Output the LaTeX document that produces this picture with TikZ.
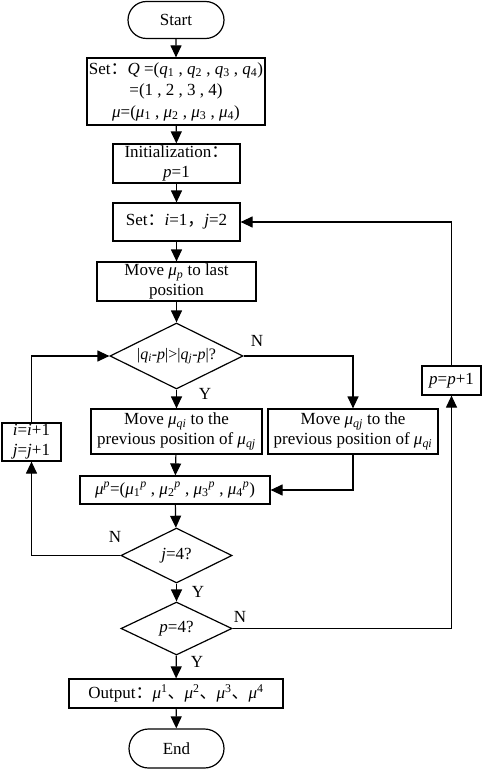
\documentclass[tikz,border=0pt]{standalone}
\usepackage{fontspec}
\setmainfont{Liberation Serif}
\newfontfamily\cjk{Noto Sans CJK SC}
\usetikzlibrary{shapes.geometric,shapes.misc,arrows.meta}
\newcommand\sbs[1]{\textsubscript{#1}}
\newcommand\sps[1]{\textsuperscript{#1}}
\newcommand\gm{\textit{μ}}
\newcommand\cc{{\cjk ：}}
\newcommand\cm{{\cjk 、}}
\begin{document}
\begin{tikzpicture}[x=1pt,y=-1pt,
  font=\fontsize{17}{20}\selectfont, line width=1.2pt,
  box/.style={draw, rectangle, inner sep=0pt, align=center},
  term/.style={draw, rounded rectangle, inner sep=0pt, minimum width=96pt, minimum height=37pt},
  dia/.style={draw, diamond, aspect=2, inner sep=0pt},
  arr/.style={-{Triangle[length=12pt,width=11pt]}},
  lbl/.style={inner sep=0pt}]
\useasboundingbox (0,0) rectangle (484,770);

\node[term] (start) at (176,20) {Start};
\node[box, minimum width=178pt, minimum height=67pt, font=\fontsize{17}{21.5}\selectfont] (setq) at (176,91.5)
  {Set\cc\textit{Q} =(\textit{q}\sbs{1} , \textit{q}\sbs{2} , \textit{q}\sbs{3} , \textit{q}\sbs{4})\\
   =(1 , 2 , 3 , 4)\\
   \gm=(\gm\sbs{1} , \gm\sbs{2} , \gm\sbs{3} , \gm\sbs{4})};
\node[box, minimum width=127pt, minimum height=39pt] (init) at (176.5,163.5)
  {Initialization\cc\\\textit{p}=1};
\node[box, minimum width=127pt, minimum height=38pt] (seti) at (176.5,222)
  {Set\cc\textit{i}=1{\cjk ，}\textit{j}=2};
\node[box, minimum width=159pt, minimum height=39pt] (movep) at (176.5,281.5)
  {Move \gm\sbs{\textit{p}} to last\\position};
\node[dia, minimum width=133pt, minimum height=66pt, font=\fontsize{16}{19}\selectfont] (d1) at (176.5,356)
  {|\textit{q}\sbs{\textit{i}}-\textit{p}|>|\textit{q}\sbs{\textit{j}}-\textit{p}|?};
\node[box, minimum width=171pt, minimum height=45pt] (mqi) at (176.5,431.5)
  {Move \gm\sbs{\textit{qi}} to the\\previous position of \gm\sbs{\textit{qj}}};
\node[box, minimum width=170pt, minimum height=45pt] (mqj) at (353,431.5)
  {Move \gm\sbs{\textit{qj}} to the\\previous position of \gm\sbs{\textit{qi}}};
\node[box, minimum width=59pt, minimum height=38pt] (ii) at (31.5,442)
  {\textit{i}=\textit{i}+1\\\textit{j}=\textit{j}+1};
\node[box, minimum width=59pt, minimum height=29pt] (pp) at (451.5,380.5)
  {\textit{p}=\textit{p}+1};
\node[box, minimum width=190pt, minimum height=28pt] (mup) at (175,490)
  {\gm\sps{\textit{p}}=(\gm\sbs{1}\sps{\textit{p}} , \gm\sbs{2}\sps{\textit{p}} , \gm\sbs{3}\sps{\textit{p}} , \gm\sbs{4}\sps{\textit{p}})};
\node[dia, minimum width=111pt, minimum height=55pt] (d2) at (176.5,555.5)
  {\textit{j}=4?};
\node[dia, minimum width=111pt, minimum height=53pt] (d3) at (176.5,628.5)
  {\textit{p}=4?};
\node[box, minimum width=214pt, minimum height=29pt] (out) at (176,693.5)
  {Output\cc\gm\sps{1}\cm\gm\sps{2}\cm\gm\sps{3}\cm\gm\sps{4}};
\node[term, minimum width=95pt, minimum height=39pt] (end) at (176.5,748.5) {End};

\draw[arr] (start) -- (setq);
\draw[arr] (setq) -- (init);
\draw[arr] (init) -- (seti);
\draw[arr] (seti) -- (movep);
\draw[arr] (movep) -- (d1);
\draw[arr] (d1) -- (mqi);
\draw[arr] (mqi) -- (mup);
\draw[arr] (mup) -- (d2);
\draw[arr] (d2) -- (d3);
\draw[arr] (d3) -- (out);
\draw[arr] (out) -- (end);
\draw[arr] (d1.east) -| (mqj.north);
\draw[arr] (mqj.south) |- (mup.east);
\draw[arr] (d2.west) -| (ii.south);
\draw[arr] (ii.north) |- (d1.west);
\draw[arr] (d3.east) -| (pp.south);
\draw[arr] (pp.north) |- (seti.east);

\node[lbl] (n1) at (257,341) {N};
\node[lbl] (y1) at (205,394) {Y};
\node[lbl] (n2) at (115,537) {N};
\node[lbl] (y2) at (198,592) {Y};
\node[lbl] (n3) at (240,617) {N};
\node[lbl] (y3) at (197,662) {Y};
\end{tikzpicture}
\end{document}
